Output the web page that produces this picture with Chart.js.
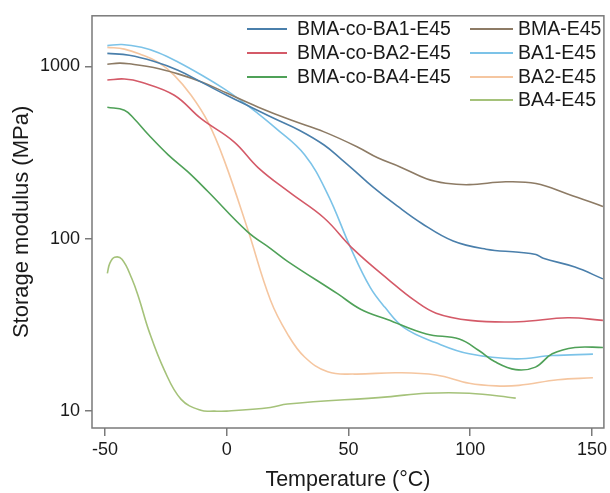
<!DOCTYPE html>
<html>
<head>
<meta charset="utf-8">
<script src="https://cdn.jsdelivr.net/npm/chart.js@4.4.1/dist/chart.umd.min.js"></script>
<style>
  body { margin: 0; background: #fff; }
  #wrap { width: 610px; height: 493px; }
</style>
</head>
<body>
<div id="wrap"><canvas id="dmaChart"></canvas></div>
<script>
/* Storage modulus vs temperature (DMA), log y-axis.
   Values. */

const seriesNames = ['BMA-co-BA1-E45', 'BMA-co-BA2-E45', 'BMA-co-BA4-E45',
                     'BMA-E45', 'BA1-E45', 'BA2-E45', 'BA4-E45'];
const seriesColors = ['#4a7fab', '#d45a68', '#4fa158',
                      '#8d7b65', '#7cc3e8', '#f5c6a0', '#a5c27a'];

// temperatures (deg C) and storage modulus (MPa) per sample
const tBmaBa1 = [-49, -40, -30, -20, -10, 0, 10, 20, 30, 40, 47, 52, 60, 70, 80, 93, 106.5, 120, 127, 130, 143, 154.5];
const eBmaBa1 = [1190, 1160, 1070, 950, 805, 680, 580, 495, 425, 350, 290, 252, 200, 155, 123, 97, 87, 83.5, 81, 77, 68.5, 58.5];

const tBmaBa2 = [-49, -42, -35, -21.5, -10.5, 3, 13, 26, 40, 52, 67, 77, 86, 100, 120, 140, 154.5];
const eBmaBa2 = [834, 845, 809, 680, 497, 365, 258, 185, 132, 87, 57, 44, 37, 33.6, 33, 34.8, 33.6];

const tBmaBa4 = [-49, -42, -38, -32, -24, -16, -7.7, 8.5, 17.9, 25, 45.5, 55, 66, 82, 95.5, 103.7, 110, 118.7, 126.8, 133.7, 143, 154.5];
const eBmaBa4 = [580, 557, 497, 400, 307, 245, 188, 110, 88, 74, 48, 39, 34, 28, 26.2, 22.4, 19.4, 17.4, 18, 21.5, 23.4, 23.4];

const tBma = [-49, -44, -40, -30, -20, -10, 0, 13, 26.4, 40, 53.7, 62, 71, 82, 90, 99.6, 114.6, 127, 140, 154.5];
const eBma = [1030, 1045, 1035, 985, 905, 810, 700, 580, 488, 417, 341, 295, 262, 223, 210, 206, 214, 209, 182, 154];

const tBa1 = [-49, -43, -35, -28, -20, -10, -1, 5.7, 12, 20, 32, 41.5, 51, 59, 65, 72.8, 86, 99.6, 118.7, 133.7, 150.4];
const eBa1 = [1320, 1340, 1290, 1200, 1060, 885, 740, 636, 545, 440, 307, 181, 88, 52, 40, 30.5, 24.9, 21.5, 20.1, 21, 21.4];

const tBa2 = [-49, -42, -35, -28, -21.5, -14.6, -7.7, -1, 8.5, 18, 25, 32, 41.5, 52.4, 70, 86, 99.6, 110.6, 120, 136, 150.4];
const eBa2 = [1290, 1260, 1170, 1055, 887, 680, 476, 285, 115, 44, 28, 20.6, 16.9, 16.4, 16.7, 16.2, 14.5, 14.0, 14.1, 15.2, 15.6];

const tBa4 = [-49, -48, -46, -43, -39, -36, -32, -25.6, -18.7, -10.6, -5, 0, 17.9, 25, 66, 82, 99.6, 118.7];
const eBa4 = [63, 72, 78, 76, 59, 45, 29.4, 17.3, 11.7, 10.1, 10, 10, 10.5, 11, 12.1, 12.7, 12.7, 11.9];

const seriesTemps = [tBmaBa1, tBmaBa2, tBmaBa4, tBma, tBa1, tBa2, tBa4];
const seriesModuli = [eBmaBa1, eBmaBa2, eBmaBa4, eBma, eBa1, eBa2, eBa4];

const xTicks = [-50, 0, 50, 100, 150];
const yTicks = [10, 100, 1000];

const frameColor = '#7a7a7a';
const fontFamily = '"Liberation Sans", Arial, sans-serif';

// two-column legend drawn inside the plot, upper right
const legendInside = {
  id: 'legendInside',
  afterDraw(chart) {
    const ctx = chart.ctx;
    const cols = [{ x0: 247, x1: 287, tx: 297 }, { x0: 470, x1: 513, tx: 518 }];
    const rowY = [29, 53, 77, 100];
    ctx.save();
    ctx.font = '19.5px ' + fontFamily;
    ctx.textBaseline = 'middle';
    ctx.fillStyle = '#1a1a1a';
    chart.data.datasets.forEach((ds, i) => {
      const c = i < 3 ? cols[0] : cols[1];
      const y = rowY[i < 3 ? i : i - 3];
      ctx.strokeStyle = ds.borderColor;
      ctx.lineWidth = 2;
      ctx.beginPath();
      ctx.moveTo(c.x0, y);
      ctx.lineTo(c.x1, y);
      ctx.stroke();
      ctx.fillText(ds.label, c.tx, y + 1);
    });
    ctx.restore();
  }
};

// box round the plot area
const plotFrame = {
  id: 'plotFrame',
  afterDraw(chart) {
    const a = chart.chartArea;
    const ctx = chart.ctx;
    ctx.save();
    ctx.strokeStyle = frameColor;
    ctx.lineWidth = 1.5;
    ctx.strokeRect(a.left, a.top, a.right - a.left, a.bottom - a.top);
    ctx.restore();
  }
};

const datasets = seriesNames.map((name, i) => ({
  label: name,
  data: seriesTemps[i].map((t, j) => ({ x: t, y: seriesModuli[i][j] })),
  borderColor: seriesColors[i],
  borderWidth: 1.6,
  pointRadius: 0,
  fill: false,
  tension: 0.4
}));

new Chart(document.getElementById('dmaChart'), {
  type: 'line',
  data: { datasets: datasets },
  options: {
    responsive: true,
    maintainAspectRatio: false,
    animation: false,
    layout: { padding: { top: 13, right: 1, left: 0, bottom: 0 } },
    plugins: {
      legend: { display: false },
      tooltip: { enabled: false }
    },
    scales: {
      x: {
        type: 'linear',
        min: -55.3,
        max: 154.9,
        afterBuildTicks: (scale) => { scale.ticks = xTicks.map(v => ({ value: v })); },
        afterFit: (scale) => { scale.height = 65; },
        grid: { drawOnChartArea: false, drawTicks: true, tickLength: 8, color: frameColor, lineWidth: 1.5 },
        border: { display: false },
        ticks: { color: '#1a1a1a', padding: 3, font: { family: fontFamily, size: 18 }, maxRotation: 0 },
        title: { display: true, text: 'Temperature (°C)', color: '#1a1a1a',
                 font: { family: fontFamily, size: 21.5 }, padding: { top: 0, bottom: 0 } }
      },
      y: {
        type: 'logarithmic',
        min: 7.98,
        max: 1966,
        afterBuildTicks: (scale) => { scale.ticks = yTicks.map(v => ({ value: v })); },
        afterFit: (scale) => { scale.width = 92; },
        grid: { drawOnChartArea: false, drawTicks: true, tickLength: 7, color: frameColor, lineWidth: 1.5 },
        border: { display: false },
        ticks: { color: '#1a1a1a', padding: 5, font: { family: fontFamily, size: 18 },
                 callback: (v) => String(v) },
        title: { display: true, text: 'Storage modulus (MPa)', color: '#1a1a1a',
                 font: { family: fontFamily, size: 22 }, padding: { top: 9, bottom: 0 } }
      }
    }
  },
  plugins: [legendInside, plotFrame]
});
</script>
</body>
</html>
